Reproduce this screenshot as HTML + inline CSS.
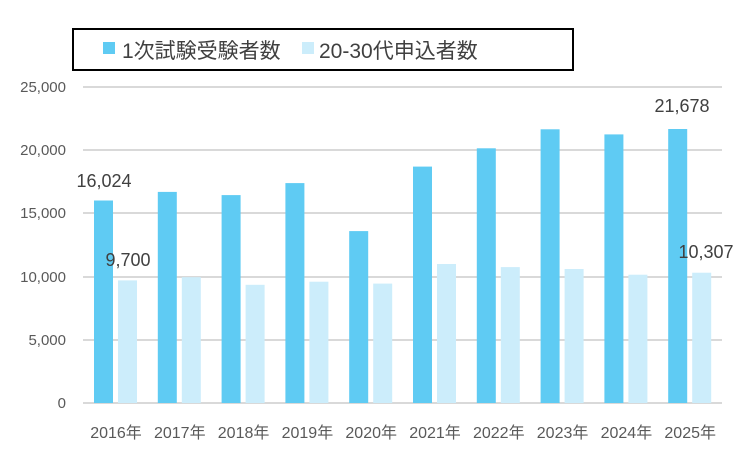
<!DOCTYPE html>
<html><head><meta charset="utf-8"><style>
body{margin:0;background:#fff;}
svg text{font-family:"Liberation Sans","Noto Sans CJK JP",sans-serif;}
</style></head><body>
<svg width="750" height="450" viewBox="0 0 750 450" xmlns="http://www.w3.org/2000/svg">
<rect width="750" height="450" fill="#fff"/>
<rect x="73" y="29" width="500" height="41" fill="#fff" stroke="#000" stroke-width="2"/>
<rect x="103" y="42" width="12" height="12" fill="#5FCBF3"/>
<text x="122" y="58" font-size="21" fill="#404040">1次試験受験者数</text>
<rect x="302" y="42" width="12" height="12" fill="#CCEDFB"/>
<text x="319" y="58" font-size="21" fill="#404040">20-30代申込者数</text>
<g stroke="#d9d9d9" stroke-width="2">
<line x1="83" y1="87" x2="722" y2="87"/><line x1="83" y1="150" x2="722" y2="150"/>
<line x1="83" y1="213" x2="722" y2="213"/><line x1="83" y1="277" x2="722" y2="277"/>
<line x1="83" y1="340" x2="722" y2="340"/><line x1="83" y1="403" x2="722" y2="403"/>
</g>
<g font-size="15" fill="#595959" text-anchor="end">
<text x="66" y="92">25,000</text><text x="66" y="155">20,000</text><text x="66" y="218">15,000</text>
<text x="66" y="282">10,000</text><text x="66" y="345">5,000</text><text x="66" y="408">0</text>
</g>
<g fill="#5FCBF3">
<rect x="94" y="200.5" width="19" height="202.5"/>
<rect x="157.8" y="191.9" width="19" height="211.1"/>
<rect x="221.6" y="195.1" width="19" height="207.9"/>
<rect x="285.4" y="183.1" width="19" height="219.9"/>
<rect x="349.2" y="231.1" width="19" height="171.9"/>
<rect x="413" y="166.6" width="19" height="236.4"/>
<rect x="476.8" y="148.3" width="19" height="254.7"/>
<rect x="540.6" y="129.3" width="19" height="273.7"/>
<rect x="604.4" y="134.4" width="19" height="268.6"/>
<rect x="668.2" y="129" width="19" height="274"/>
</g>
<g fill="#CCEDFB">
<rect x="118" y="280.4" width="19" height="122.6"/>
<rect x="181.8" y="277.2" width="19" height="125.8"/>
<rect x="245.6" y="284.8" width="19" height="118.2"/>
<rect x="309.4" y="281.7" width="19" height="121.3"/>
<rect x="373.2" y="283.6" width="19" height="119.4"/>
<rect x="437" y="264" width="19" height="139"/>
<rect x="500.8" y="267.1" width="19" height="135.9"/>
<rect x="564.6" y="269" width="19" height="134"/>
<rect x="628.4" y="274.7" width="19" height="128.3"/>
<rect x="692.2" y="272.7" width="19" height="130.3"/>
</g>
<g font-size="16" fill="#595959" text-anchor="middle">
<text x="116" y="438">2016年</text><text x="179.8" y="438">2017年</text><text x="243.6" y="438">2018年</text>
<text x="307.4" y="438">2019年</text><text x="371.2" y="438">2020年</text><text x="435" y="438">2021年</text>
<text x="498.8" y="438">2022年</text><text x="562.6" y="438">2023年</text><text x="626.4" y="438">2024年</text>
<text x="690.2" y="438">2025年</text>
</g>
<g font-size="18" fill="#404040" text-anchor="middle">
<text x="104" y="187">16,024</text><text x="128" y="266">9,700</text>
<text x="682" y="112">21,678</text><text x="706" y="258">10,307</text>
</g>
</svg>
</body></html>
